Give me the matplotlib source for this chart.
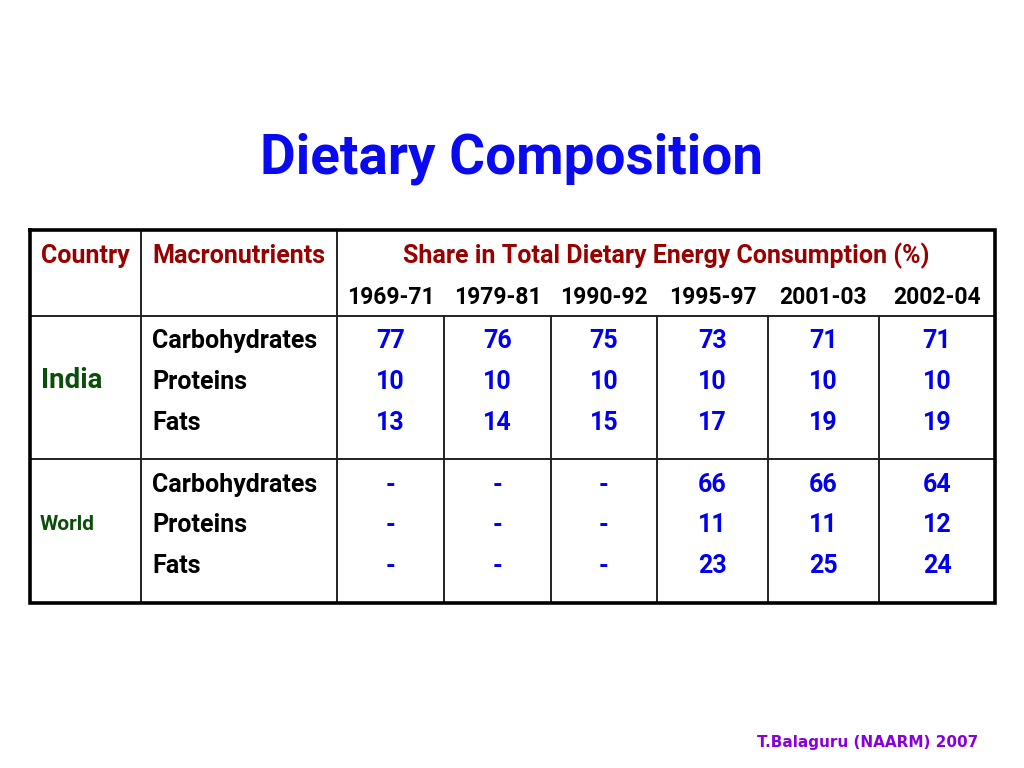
import matplotlib.pyplot as plt

# data
periods = ["1969-71", "1979-81", "1990-92", "1995-97", "2001-03", "2002-04"]
nutrients = ["Carbohydrates", "Proteins", "Fats"]
india = [[77, 76, 75, 73, 71, 71],
         [10, 10, 10, 10, 10, 10],
         [13, 14, 15, 17, 19, 19]]
world = [["-", "-", "-", 66, 66, 64],
         ["-", "-", "-", 11, 11, 12],
         ["-", "-", "-", 23, 25, 24]]

fam = ["Roboto", "DejaVu Sans"]

fig = plt.figure(figsize=(10.24, 7.68), dpi=100)
ax = fig.add_axes([0, 0, 1, 1])
ax.set_xlim(0, 1024)
ax.set_ylim(768, 0)
ax.axis("off")

dark_red = "#990000"
blue = "#0000ee"
green = "#0b4d0b"

ax.text(512, 159, "Dietary Composition", ha="center", va="center",
        fontsize=39.5, fontweight="bold", color="#0a0af0", family=fam)

# grid
xs = [30, 141, 337, 444, 551, 657, 768, 879, 995]
top, hdr, mid, bot = 230, 316, 459, 603
thin = dict(color="#222222", lw=1.4)
for y in (hdr, mid):
    ax.plot([xs[0], xs[-1]], [y, y], **thin)
for x in xs[1:3]:
    ax.plot([x, x], [top, bot], **thin)
for x in xs[3:-1]:
    ax.plot([x, x], [hdr, bot], **thin)
ax.plot([xs[0], xs[-1], xs[-1], xs[0], xs[0]], [top, top, bot, bot, top],
        color="black", lw=2.6, solid_joinstyle="miter")

fs = 18
ax.text((xs[0] + xs[1]) / 2, 256, "Country", ha="center", va="center",
        fontsize=fs, fontweight="bold", color=dark_red, family=fam)
ax.text((xs[1] + xs[2]) / 2, 256, "Macronutrients", ha="center", va="center",
        fontsize=fs, fontweight="bold", color=dark_red, family=fam)
ax.text((xs[2] + xs[-1]) / 2, 256, "Share in Total Dietary Energy Consumption (%)",
        ha="center", va="center", fontsize=fs, fontweight="bold", color=dark_red, family=fam)
for i, p in enumerate(periods):
    ax.text((xs[i + 2] + xs[i + 3]) / 2, 297, p, ha="center", va="center",
            fontsize=16.5, fontweight="bold", color="black", family=fam)

ax.text(41, 381, "India", ha="left", va="center", fontsize=20,
        fontweight="bold", color=green, family=fam)
ax.text(40, 525, "World", ha="left", va="center", fontsize=15,
        fontweight="bold", color=green, family=fam)

for block, rows_y in ((india, [341, 382, 423]), (world, [485, 525, 566])):
    for r, y in enumerate(rows_y):
        ax.text(152, y, nutrients[r], ha="left", va="center", fontsize=fs,
                fontweight="bold", color="black", family=fam)
        for i, v in enumerate(block[r]):
            ax.text((xs[i + 2] + xs[i + 3]) / 2, y, str(v), ha="center", va="center",
                    fontsize=fs, fontweight="bold", color=blue, family=fam)

ax.text(978, 742, "T.Balaguru (NAARM) 2007", ha="right", va="center",
        fontsize=11, fontweight="bold", color="#8800dd", family=["DejaVu Sans"])

fig.savefig("out.png", dpi=100)
